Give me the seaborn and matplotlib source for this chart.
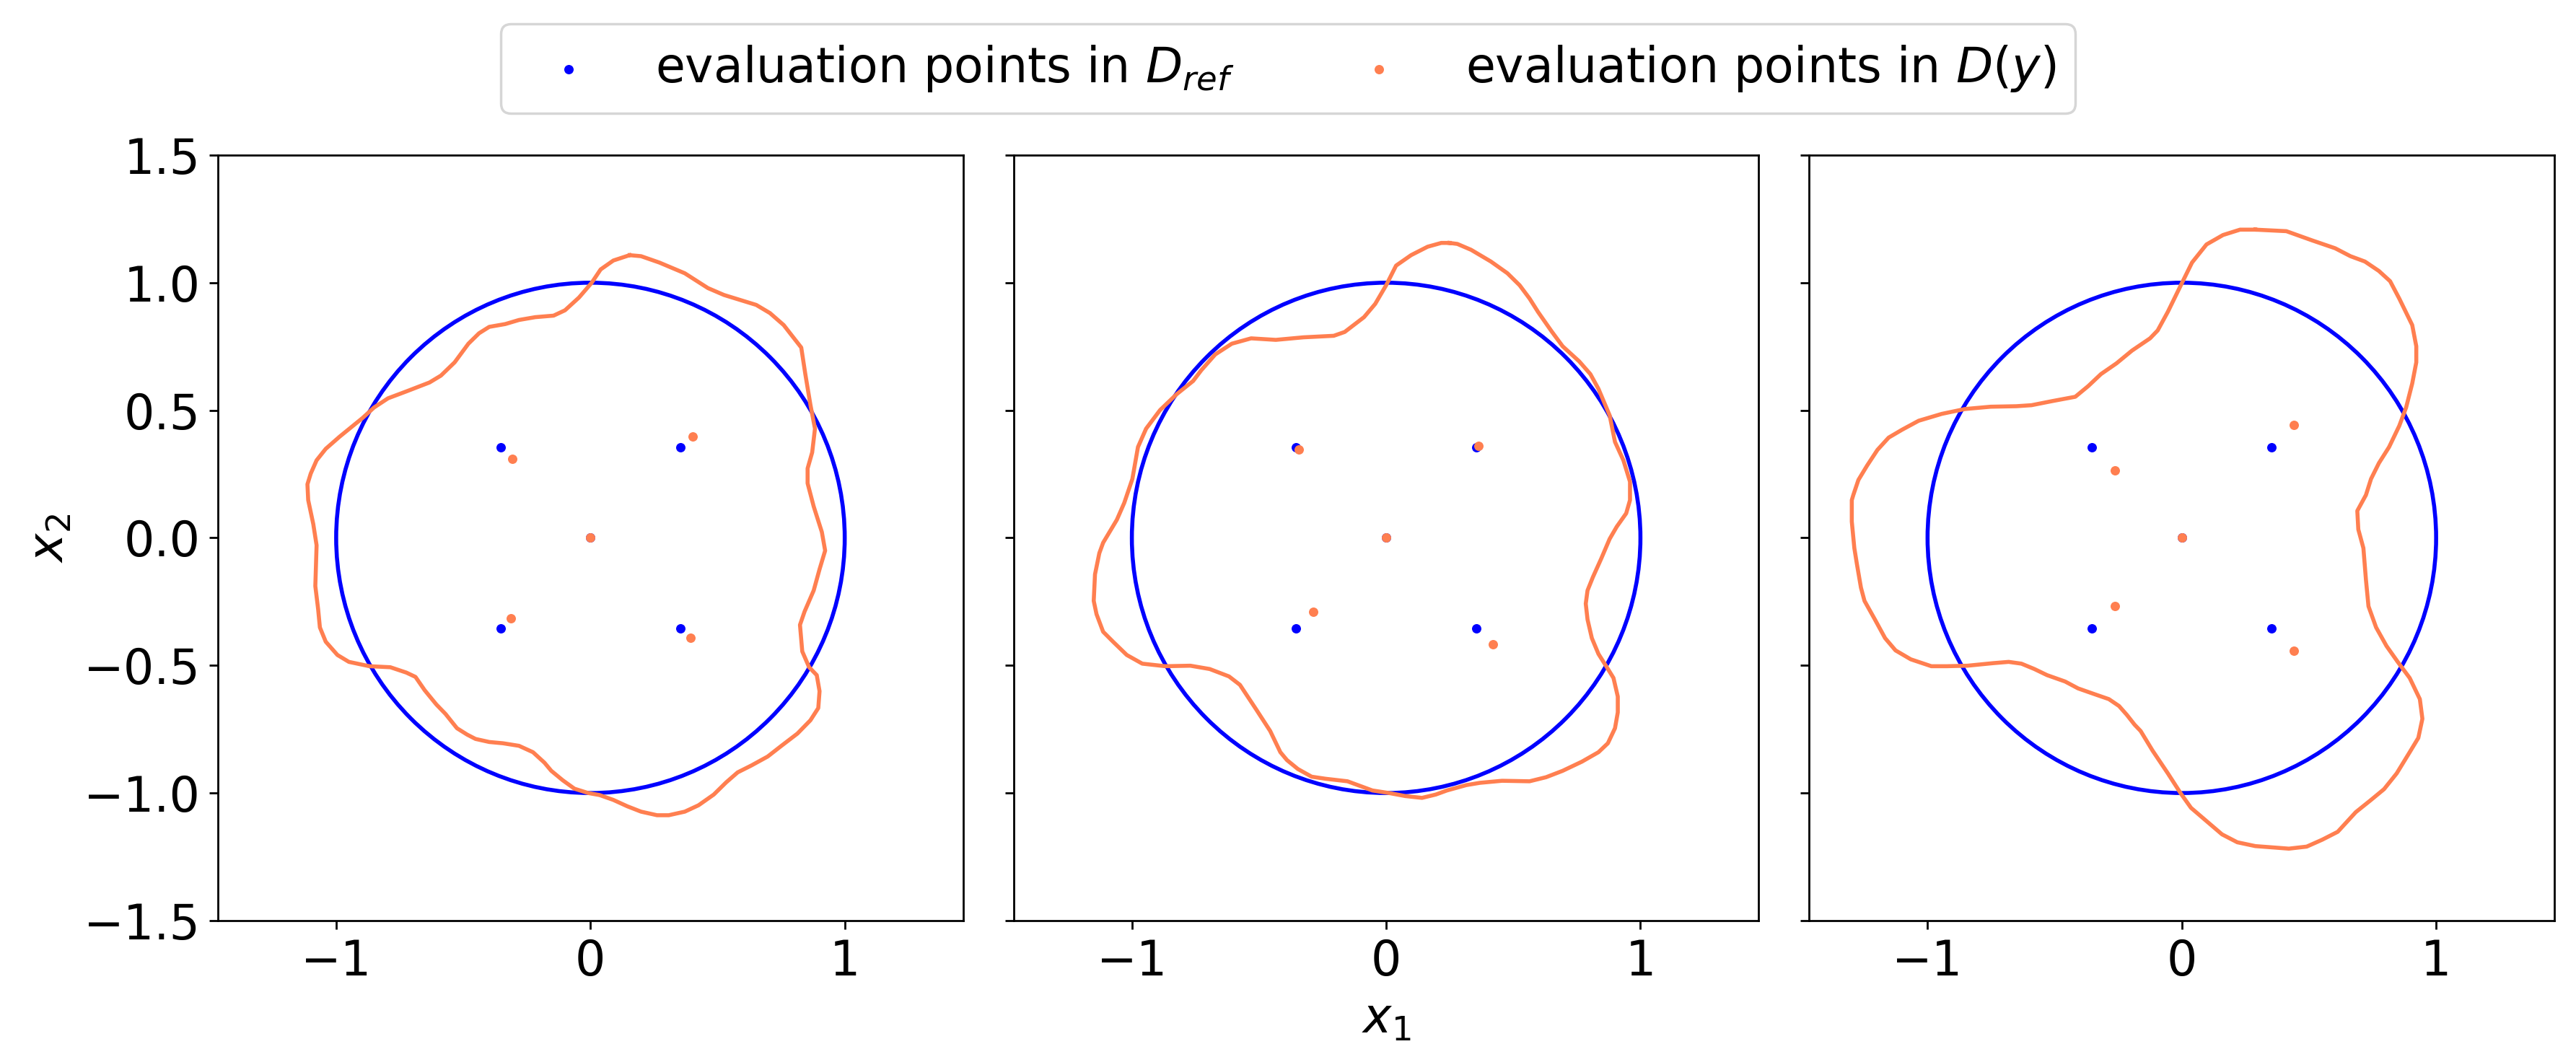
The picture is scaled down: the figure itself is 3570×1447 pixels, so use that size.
import numpy as np
import seaborn as sns
import matplotlib.pyplot as plt

# reference domain D_ref: unit disc
ref_center = (0.0, 0.0)
ref_radius = 1.0

# evaluation points in D_ref (same in every panel)
ref_pts_x = [-0.354, 0.354, 0.0, -0.354, 0.354]
ref_pts_y = [0.354, 0.354, 0.0, -0.354, -0.354]

# mapped evaluation points in D(y), one list per panel
mapped_pts_1 = [(-0.308, 0.310), (0.402, 0.397), (0.0, 0.0), (-0.313, -0.316), (0.395, -0.393)]
mapped_pts_2 = [(-0.343, 0.345), (0.364, 0.360), (0.0, 0.0), (-0.286, -0.291), (0.421, -0.418)]
mapped_pts_3 = [(-0.263, 0.264), (0.441, 0.443), (0.0, 0.0), (-0.263, -0.268), (0.441, -0.443)]

# boundary of D(y), (x1, x2), one list per panel
outline_1 = [
    (0.154, 1.108), (0.199, 1.104), (0.271, 1.079), (0.371, 1.037), (0.462, 0.979),
    (0.525, 0.952), (0.652, 0.913), (0.706, 0.881), (0.760, 0.834), (0.796, 0.788),
    (0.829, 0.746), (0.845, 0.642), (0.865, 0.522), (0.883, 0.428), (0.872, 0.335),
    (0.854, 0.272), (0.854, 0.214), (0.878, 0.123), (0.910, 0.023), (0.923, -0.050),
    (0.901, -0.123), (0.878, -0.206), (0.842, -0.289), (0.824, -0.341), (0.833, -0.445),
    (0.860, -0.507), (0.890, -0.538), (0.901, -0.601), (0.896, -0.667), (0.865, -0.715),
    (0.814, -0.767), (0.751, -0.815), (0.697, -0.857), (0.633, -0.892), (0.579, -0.919),
    (0.534, -0.958), (0.485, -1.006), (0.425, -1.048), (0.371, -1.073), (0.308, -1.087),
    (0.262, -1.087), (0.199, -1.073), (0.145, -1.052), (0.090, -1.027), (0.036, -1.008),
    (-0.009, -1.000), (-0.063, -0.983), (-0.109, -0.950), (-0.154, -0.913), (-0.181, -0.881),
    (-0.226, -0.840), (-0.281, -0.815), (-0.344, -0.805), (-0.398, -0.800), (-0.452, -0.788),
    (-0.485, -0.771), (-0.525, -0.746), (-0.570, -0.690), (-0.606, -0.653), (-0.652, -0.597),
    (-0.688, -0.545), (-0.724, -0.528), (-0.787, -0.507), (-0.869, -0.503), (-0.950, -0.486),
    (-0.995, -0.459), (-1.041, -0.407), (-1.064, -0.351), (-1.071, -0.279), (-1.082, -0.189),
    (-1.077, -0.029), (-1.090, 0.054), (-1.110, 0.148), (-1.113, 0.210), (-1.100, 0.252),
    (-1.077, 0.304), (-1.041, 0.349), (-0.986, 0.397), (-0.896, 0.470), (-0.851, 0.511),
    (-0.796, 0.547), (-0.724, 0.574), (-0.633, 0.609), (-0.588, 0.636), (-0.534, 0.688),
    (-0.480, 0.761), (-0.438, 0.802), (-0.398, 0.827), (-0.335, 0.838), (-0.281, 0.854),
    (-0.217, 0.865), (-0.145, 0.871), (-0.100, 0.892), (-0.045, 0.942), (0.005, 1.000),
    (0.040, 1.052), (0.090, 1.087),
]

outline_2 = [
    (0.249, 1.156), (0.280, 1.152), (0.334, 1.129), (0.412, 1.083), (0.477, 1.037),
    (0.525, 0.990), (0.564, 0.938), (0.597, 0.886), (0.651, 0.809), (0.694, 0.751),
    (0.759, 0.692), (0.803, 0.642), (0.835, 0.584), (0.879, 0.480), (0.900, 0.376),
    (0.933, 0.304), (0.959, 0.220), (0.959, 0.148), (0.944, 0.096), (0.907, 0.044),
    (0.879, -0.004), (0.846, -0.081), (0.813, -0.154), (0.792, -0.206), (0.785, -0.258),
    (0.792, -0.320), (0.809, -0.393), (0.835, -0.455), (0.868, -0.507), (0.894, -0.549),
    (0.911, -0.622), (0.911, -0.684), (0.900, -0.746), (0.872, -0.805), (0.835, -0.840),
    (0.770, -0.877), (0.694, -0.913), (0.629, -0.938), (0.564, -0.954), (0.456, -0.952),
    (0.369, -0.960), (0.315, -0.969), (0.239, -0.990), (0.195, -1.006), (0.141, -1.019),
    (0.076, -1.012), (0.011, -1.000), (-0.054, -0.990), (-0.152, -0.954), (-0.239, -0.944),
    (-0.293, -0.936), (-0.347, -0.906), (-0.390, -0.871), (-0.416, -0.840), (-0.456, -0.757),
    (-0.510, -0.674), (-0.575, -0.576), (-0.618, -0.543), (-0.694, -0.514), (-0.770, -0.501),
    (-0.868, -0.503), (-0.959, -0.493), (-1.020, -0.459), (-1.074, -0.407), (-1.113, -0.368),
    (-1.139, -0.299), (-1.150, -0.247), (-1.145, -0.143), (-1.128, -0.060), (-1.113, -0.019),
    (-1.059, 0.071), (-1.030, 0.137), (-0.998, 0.231), (-0.976, 0.356), (-0.944, 0.428),
    (-0.889, 0.501), (-0.824, 0.563), (-0.759, 0.615), (-0.727, 0.657), (-0.672, 0.719),
    (-0.607, 0.761), (-0.531, 0.782), (-0.434, 0.776), (-0.325, 0.786), (-0.206, 0.792),
    (-0.163, 0.807), (-0.087, 0.865), (-0.043, 0.917), (0.000, 0.990), (0.039, 1.067),
    (0.098, 1.108), (0.163, 1.141), (0.217, 1.156),
]

outline_3 = [
    (0.289, 1.208), (0.411, 1.202), (0.512, 1.166), (0.603, 1.135), (0.663, 1.104),
    (0.720, 1.083), (0.775, 1.046), (0.819, 1.006), (0.855, 0.938), (0.906, 0.834),
    (0.922, 0.751), (0.922, 0.688), (0.906, 0.605), (0.882, 0.511), (0.855, 0.439),
    (0.815, 0.356), (0.775, 0.293), (0.744, 0.231), (0.724, 0.168), (0.690, 0.106),
    (0.694, 0.033), (0.714, -0.040), (0.724, -0.164), (0.734, -0.268), (0.764, -0.351),
    (0.805, -0.424), (0.849, -0.486), (0.896, -0.549), (0.936, -0.632), (0.946, -0.709),
    (0.930, -0.784), (0.896, -0.840), (0.845, -0.923), (0.795, -0.985), (0.744, -1.027),
    (0.684, -1.075), (0.613, -1.152), (0.552, -1.183), (0.491, -1.210), (0.421, -1.218),
    (0.289, -1.208), (0.218, -1.193), (0.158, -1.162), (0.097, -1.110), (0.036, -1.058),
    (-0.004, -1.002), (-0.055, -0.923), (-0.115, -0.834), (-0.162, -0.757), (-0.186, -0.732),
    (-0.216, -0.694), (-0.247, -0.659), (-0.287, -0.632), (-0.348, -0.611), (-0.408, -0.590),
    (-0.459, -0.563), (-0.530, -0.538), (-0.580, -0.514), (-0.631, -0.493), (-0.681, -0.486),
    (-0.742, -0.491), (-0.843, -0.501), (-0.924, -0.503), (-0.985, -0.503), (-1.066, -0.476),
    (-1.126, -0.441), (-1.167, -0.393), (-1.207, -0.320), (-1.248, -0.247), (-1.262, -0.195),
    (-1.278, -0.102), (-1.288, -0.040), (-1.298, 0.064), (-1.298, 0.148), (-1.292, 0.168),
    (-1.272, 0.227), (-1.238, 0.283), (-1.197, 0.345), (-1.153, 0.393), (-1.100, 0.424),
    (-1.035, 0.459), (-0.944, 0.486), (-0.853, 0.505), (-0.752, 0.514), (-0.651, 0.516),
    (-0.591, 0.520), (-0.510, 0.536), (-0.419, 0.553), (-0.368, 0.595), (-0.318, 0.642),
    (-0.257, 0.684), (-0.196, 0.734), (-0.125, 0.782), (-0.095, 0.813), (-0.055, 0.886),
    (-0.004, 0.990), (0.040, 1.079), (0.097, 1.150), (0.162, 1.187), (0.229, 1.208),
]

outlines = [outline_1, outline_2, outline_3]
mapped_pts = [mapped_pts_1, mapped_pts_2, mapped_pts_3]

plt.rcParams["font.size"] = 19.2

fig, axes = plt.subplots(1, 3, figsize=(14.28, 5.788), sharey=True)
fig.subplots_adjust(left=0.0846, right=0.9916, bottom=0.1182, top=0.8514, wspace=0.068)

for i, ax in enumerate(axes):
    ox, oy = zip(*(outlines[i] + outlines[i][:1]))   # close the loop
    px, py = zip(*mapped_pts[i])

    ax.add_patch(plt.Circle(ref_center, ref_radius, fill=False, color="blue", lw=1.6))
    sns.lineplot(x=list(ox), y=list(oy), sort=False, estimator=None,
                 color="coral", linewidth=1.6, ax=ax)
    sns.scatterplot(x=ref_pts_x, y=ref_pts_y, color="blue", s=14, linewidth=0,
                    label=r"evaluation points in $D_{ref}$", ax=ax)
    sns.scatterplot(x=list(px), y=list(py), color="coral", s=14, linewidth=0,
                    label=r"evaluation points in $D(y)$", ax=ax)

    ax.set_xlim(-1.465, 1.465)
    ax.set_ylim(-1.5, 1.5)
    ax.set_xticks([-1, 0, 1])
    ax.set_yticks([-1.5, -1.0, -0.5, 0.0, 0.5, 1.0, 1.5])
    if ax.get_legend() is not None:
        ax.get_legend().remove()

axes[0].set_ylabel("$x_2$")
axes[1].set_xlabel("$x_1$")

handles, labels = axes[0].get_legend_handles_labels()
fig.legend(handles[:2], labels[:2], loc="upper center", ncol=2)

plt.savefig("out.png", dpi=250)
